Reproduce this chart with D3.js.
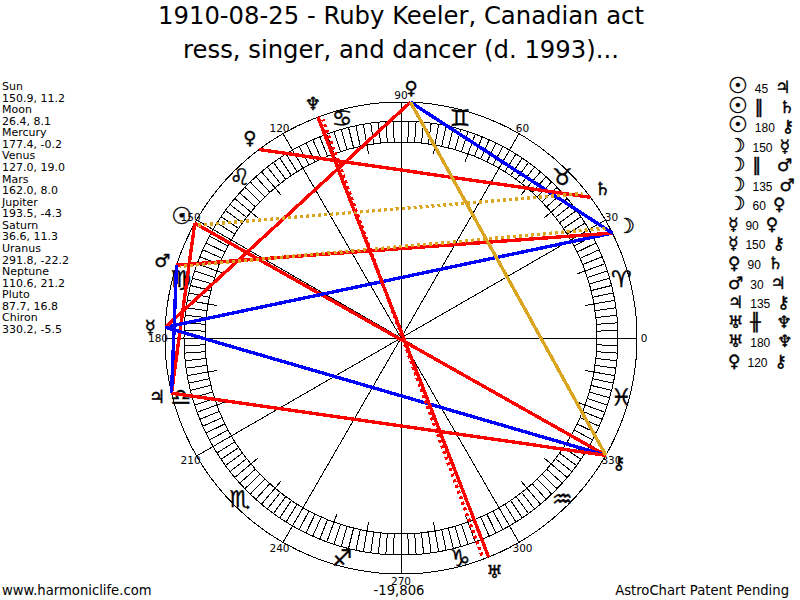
<!DOCTYPE html>
<html>
<head>
<meta charset="utf-8">
<title>AstroChart</title>
<script src="https://cdn.jsdelivr.net/npm/d3@7"></script>
<style>
  html, body { margin: 0; padding: 0; background: #fff; }
  text { font-family: "DejaVu Sans", sans-serif; fill: #000; }
  line, circle { shape-rendering: crispEdges; }
  .glyph { stroke: #000; stroke-width: 0.4px; }
</style>
</head>
<body>
<div id="chart"></div>
<script>
const titleLines = ["1910-08-25 - Ruby Keeler, Canadian act", "ress, singer, and dancer (d. 1993)..."];

const planetNames = ["Sun", "Moon", "Mercury", "Venus", "Mars", "Jupiter", "Saturn", "Uranus", "Neptune", "Pluto", "Chiron"];
const planetLongitudes = [150.9, 26.4, 177.4, 127.0, 162.0, 193.5, 36.6, 291.8, 110.6, 87.7, 330.2];
const planetLatitudes = ["11.2", "8.1", "-0.2", "19.0", "8.0", "-4.3", "11.3", "-22.2", "21.2", "16.8", "-5.5"];
const planetGlyphs = ["\u2609", "\u263D", "\u263F", "\u2640", "\u2642", "\u2643", "\u2644", "\u2645", "\u2646", "\u2640", "\u26B7"];

const signGlyphs = ["\u2648", "\u2649", "\u264A", "\u264B", "\u264C", "\u264D", "\u264E", "\u264F", "\u2650", "\u2651", "\u2652", "\u2653"];
const degreeLabels = [0, 30, 60, 90, 120, 150, 180, 210, 240, 270, 300, 330];

const aspectFrom = ["Sun", "Sun", "Sun", "Moon", "Moon", "Moon", "Moon", "Mercury", "Mercury", "Venus", "Mars", "Jupiter", "Uranus", "Uranus", "Pluto"];
const aspectTypes = ["45", "||", "180", "150", "||", "135", "60", "90", "150", "90", "30", "135", "#", "180", "120"];
const aspectTo = ["Jupiter", "Saturn", "Chiron", "Mercury", "Mars", "Mars", "Pluto", "Pluto", "Chiron", "Saturn", "Jupiter", "Chiron", "Neptune", "Neptune", "Chiron"];

const footerLeft = "www.harmoniclife.com";
const footerMiddle = "-19,806";
const footerRight = "AstroChart Patent Pending";

const width = 800;
const height = 600;
const cx = 401;
const cy = 338;
const outerR = 236;
const ringOuterR = 217;
const ringInnerR = 196;
const longTickR = 187;
const dottedR = 232;

const svg = d3.select("#chart")
  .append("svg")
  .attr("width", width)
  .attr("height", height)
  .style("display", "block");

const wheel = svg.append("g")
  .attr("transform", `translate(${cx},${cy})`);

// longitude runs counter-clockwise with 0 on the right
const angle = d3.scaleLinear().domain([0, 360]).range([0, -2 * Math.PI]);
const px = (deg, r) => r * Math.cos(angle(deg));
const py = (deg, r) => r * Math.sin(angle(deg));

const aspectColor = d3.scaleOrdinal()
  .domain(["30", "60", "150", "45", "90", "135", "180", "#", "120", "||"])
  .range(["#0000ff", "#0000ff", "#0000ff", "#ff0000", "#ff0000", "#ff0000", "#ff0000", "#ff0000", "#daa520", "#daa520"]);

const isDeclination = t => t === "||" || t === "#";

// dotted lines sit a little off the planet point so they don't hide under the solid ones
const dottedSkew = { "Sun-Saturn": [0, 1.9], "Moon-Mars": [1.8, 0], "Uranus-Neptune": [-1.4, -0.9] };

// Sun and Moon glyphs are small in DejaVu
const glyphSize = (name, base) => name === "Sun" ? base * 1.3 : name === "Moon" ? base * 1.15 : base;

// Title
svg.selectAll(".title")
  .data(titleLines)
  .enter()
  .append("text")
  .attr("class", "title")
  .attr("x", cx)
  .attr("y", (d, i) => 24 + i * 33.5)
  .attr("text-anchor", "middle")
  .style("font-size", "24.3px")
  .text(d => d);

// Circles
wheel.selectAll(".rim")
  .data([outerR, ringOuterR, ringInnerR])
  .enter()
  .append("circle")
  .attr("class", "rim")
  .attr("r", d => d)
  .attr("fill", "none")
  .attr("stroke", "#000");

// Ring ticks
wheel.selectAll(".tick")
  .data(d3.range(0, 360, 2))
  .enter()
  .append("line")
  .attr("class", "tick")
  .attr("x1", d => px(d, d % 10 === 0 ? longTickR : ringInnerR))
  .attr("y1", d => py(d, d % 10 === 0 ? longTickR : ringInnerR))
  .attr("x2", d => px(d, ringOuterR))
  .attr("y2", d => py(d, ringOuterR))
  .attr("stroke", "#000");

// Spokes
wheel.selectAll(".spoke")
  .data(degreeLabels)
  .enter()
  .append("line")
  .attr("class", "spoke")
  .attr("x1", 0)
  .attr("y1", 0)
  .attr("x2", d => px(d, outerR))
  .attr("y2", d => py(d, outerR))
  .attr("stroke", "#000");

// Degree labels
wheel.selectAll(".degree")
  .data(degreeLabels)
  .enter()
  .append("text")
  .attr("class", "degree")
  .attr("x", d => px(d, outerR + 7))
  .attr("y", d => py(d, outerR + 7))
  .attr("text-anchor", "middle")
  .attr("dominant-baseline", "central")
  .style("font-size", "10.5px")
  .text(d => d);

// Sign glyphs
wheel.selectAll(".sign")
  .data(signGlyphs)
  .enter()
  .append("text")
  .attr("class", "sign glyph")
  .attr("x", (d, i) => px(15 + i * 30, 228))
  .attr("y", (d, i) => py(15 + i * 30, 228))
  .attr("text-anchor", "middle")
  .attr("dominant-baseline", "central")
  .style("font-size", "23px")
  .text(d => d + "\uFE0E");

// Aspect lines
const lonOf = name => planetLongitudes[planetNames.indexOf(name)];
const aspects = aspectTypes.map((type, i) => ({ type, from: aspectFrom[i], to: aspectTo[i] }));

wheel.selectAll(".aspect")
  .data(aspects.filter(d => !isDeclination(d.type)))
  .enter()
  .append("line")
  .attr("class", "aspect")
  .attr("x1", d => px(lonOf(d.from), outerR))
  .attr("y1", d => py(lonOf(d.from), outerR))
  .attr("x2", d => px(lonOf(d.to), outerR))
  .attr("y2", d => py(lonOf(d.to), outerR))
  .attr("stroke", d => aspectColor(d.type))
  .attr("stroke-width", 3.4);

const skewOf = d => dottedSkew[`${d.from}-${d.to}`];

wheel.selectAll(".aspect-dotted")
  .data(aspects.filter(d => isDeclination(d.type)))
  .enter()
  .append("line")
  .attr("class", "aspect-dotted")
  .attr("x1", d => px(lonOf(d.from) + skewOf(d)[0], dottedR))
  .attr("y1", d => py(lonOf(d.from) + skewOf(d)[0], dottedR))
  .attr("x2", d => px(lonOf(d.to) + skewOf(d)[1], dottedR))
  .attr("y2", d => py(lonOf(d.to) + skewOf(d)[1], dottedR))
  .attr("stroke", d => aspectColor(d.type))
  .attr("stroke-width", 3.4)
  .attr("stroke-dasharray", "3 3");

// Planet glyphs around the rim
wheel.selectAll(".planet")
  .data(planetGlyphs)
  .enter()
  .append("text")
  .attr("class", "planet glyph")
  .attr("x", (d, i) => px(planetLongitudes[i], 251))
  .attr("y", (d, i) => py(planetLongitudes[i], 251))
  .attr("text-anchor", "middle")
  .attr("dominant-baseline", "central")
  .style("font-size", (d, i) => glyphSize(planetNames[i], 18) + "px")
  .text(d => d + "\uFE0E");

// Left position list
const positionLines = planetNames.flatMap((name, i) =>
  [name, `${planetLongitudes[i].toFixed(1)}, ${planetLatitudes[i]}`]);

svg.selectAll(".position")
  .data(positionLines)
  .enter()
  .append("text")
  .attr("class", "position")
  .attr("x", 2)
  .attr("y", (d, i) => 90 + i * 11.57)
  .style("font-size", "11px")
  .text(d => d);

// Right aspect table
const glyphOf = name => planetGlyphs[planetNames.indexOf(name)];
const aspectSymbol = t => t === "||" ? "\u2016" : t === "#" ? "\u256B" : t;

const rows = svg.selectAll(".aspect-row")
  .data(aspects)
  .enter()
  .append("text")
  .attr("class", "aspect-row")
  .attr("x", 728)
  .attr("y", (d, i) => 93 + i * 19.55);

rows.append("tspan")
  .attr("class", "glyph")
  .style("font-size", d => glyphSize(d.from, 17) + "px")
  .text(d => glyphOf(d.from) + "\uFE0E");

rows.append("tspan")
  .attr("dx", 7)
  .style("font-family", d => isDeclination(d.type) ? "DejaVu Sans" : "Liberation Sans")
  .style("font-size", d => isDeclination(d.type) ? "17px" : "12px")
  .style("stroke", d => isDeclination(d.type) ? "#000" : null)
  .style("stroke-width", d => isDeclination(d.type) ? "0.5px" : null)
  .text(d => aspectSymbol(d.type));

rows.append("tspan")
  .attr("class", "glyph")
  .attr("dx", d => isDeclination(d.type) ? 16 : 7)
  .style("font-size", d => glyphSize(d.to, 17) + "px")
  .text(d => glyphOf(d.to) + "\uFE0E");

// Footer
svg.append("text")
  .attr("x", 2)
  .attr("y", 595)
  .style("font-size", "13.2px")
  .text(footerLeft);

svg.append("text")
  .attr("x", 399)
  .attr("y", 595)
  .attr("text-anchor", "middle")
  .style("font-size", "13.2px")
  .text(footerMiddle);

svg.append("text")
  .attr("x", 789)
  .attr("y", 595)
  .attr("text-anchor", "end")
  .style("font-size", "13.2px")
  .text(footerRight);
</script>
</body>
</html>
